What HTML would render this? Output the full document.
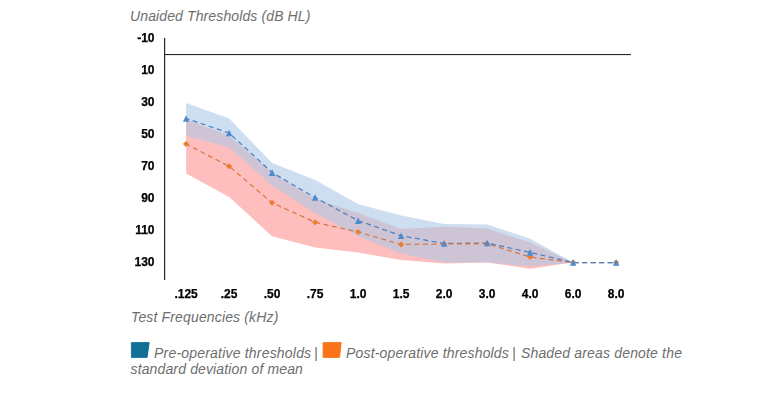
<!DOCTYPE html>
<html><head><meta charset="utf-8"><style>
html,body{margin:0;padding:0;background:#fff;}
body{width:768px;height:400px;position:relative;overflow:hidden;font-family:"Liberation Sans",sans-serif;}
.t{position:absolute;font-style:italic;font-size:14px;color:#6e6e6e;white-space:nowrap;line-height:16px;letter-spacing:0.2px;}
.yl{position:absolute;left:120px;width:34.5px;text-align:right;font-weight:bold;font-size:12px;line-height:14px;color:#000;transform:translateZ(0);-webkit-text-stroke:0.25px #000;}
.xl{position:absolute;top:287px;width:40px;text-align:center;font-weight:bold;font-size:12px;line-height:14px;color:#000;transform:translateZ(0);-webkit-text-stroke:0.25px #000;}
svg{position:absolute;left:0;top:0;}
</style></head><body>
<div class="t" style="left:130px;top:7.7px;letter-spacing:0.12px">Unaided Thresholds (dB HL)</div>
<svg width="768" height="400" viewBox="0 0 768 400">
<polygon points="186.10,119.75 229.10,135.50 272.10,173.00 315.10,199.00 358.10,213.00 401.10,229.00 444.10,226.75 487.10,228.50 530.10,242.50 573.10,262.50 573.10,262.50 530.10,268.75 487.10,262.50 444.10,263.50 401.10,260.00 358.10,252.50 315.10,247.50 272.10,236.25 229.10,197.00 186.10,173.50" fill="rgb(255,190,190)"/>
<polygon points="186.10,102.90 229.10,118.50 272.10,163.00 315.10,180.00 358.10,204.00 401.10,215.50 444.10,224.00 487.10,224.40 530.10,238.75 573.10,262.50 573.10,262.50 530.10,266.25 487.10,262.25 444.10,262.50 401.10,253.50 358.10,236.25 315.10,213.00 272.10,185.50 229.10,147.50 186.10,135.75" fill="rgb(172,200,230)" fill-opacity="0.6"/>
<polyline points="186.10,144.00 229.10,166.25 272.10,202.75 315.10,222.25 358.10,232.00 401.10,244.50 444.10,243.90 487.10,243.70 530.10,257.00 573.10,262.60 616.10,262.60" fill="none" stroke="#d87845" stroke-width="1.25" stroke-dasharray="5.0 3.5" stroke-dashoffset="0.791"/><g fill="#ed7d31"><path d="M186.10,140.90 L189.20,144.00 L186.10,147.10 L183.00,144.00Z"/><path d="M229.10,163.15 L232.20,166.25 L229.10,169.35 L226.00,166.25Z"/><path d="M272.10,199.65 L275.20,202.75 L272.10,205.85 L269.00,202.75Z"/><path d="M315.10,219.15 L318.20,222.25 L315.10,225.35 L312.00,222.25Z"/><path d="M358.10,228.90 L361.20,232.00 L358.10,235.10 L355.00,232.00Z"/><path d="M401.10,241.40 L404.20,244.50 L401.10,247.60 L398.00,244.50Z"/><path d="M444.10,240.80 L447.20,243.90 L444.10,247.00 L441.00,243.90Z"/><path d="M487.10,240.60 L490.20,243.70 L487.10,246.80 L484.00,243.70Z"/><path d="M530.10,253.90 L533.20,257.00 L530.10,260.10 L527.00,257.00Z"/><path d="M573.10,259.50 L576.20,262.60 L573.10,265.70 L570.00,262.60Z"/><path d="M616.10,259.50 L619.20,262.60 L616.10,265.70 L613.00,262.60Z"/></g><polyline points="186.10,118.50 229.10,133.00 272.10,172.60 315.10,197.50 358.10,220.60 401.10,235.75 444.10,243.50" fill="none" stroke="#4d80c2" stroke-width="1.25" stroke-dasharray="5.0 3.5" stroke-dashoffset="1.580"/><polyline points="444.10,243.50 487.10,243.00" fill="none" stroke="#a0776e" stroke-width="1.3" stroke-dasharray="5.0 3.5" stroke-dashoffset="4.200"/><polyline points="487.10,243.00 530.10,252.40 573.10,262.50 616.10,262.50" fill="none" stroke="#4d80c2" stroke-width="1.25" stroke-dasharray="5.0 3.5" stroke-dashoffset="4.703"/><g fill="#4f8cc9"><path d="M186.10,115.20 L189.35,121.80 L182.85,121.80Z"/><path d="M229.10,129.70 L232.35,136.30 L225.85,136.30Z"/><path d="M272.10,169.30 L275.35,175.90 L268.85,175.90Z"/><path d="M315.10,194.20 L318.35,200.80 L311.85,200.80Z"/><path d="M358.10,217.30 L361.35,223.90 L354.85,223.90Z"/><path d="M401.10,232.45 L404.35,239.05 L397.85,239.05Z"/><path d="M444.10,240.20 L447.35,246.80 L440.85,246.80Z"/><path d="M487.10,239.70 L490.35,246.30 L483.85,246.30Z"/><path d="M530.10,249.10 L533.35,255.70 L526.85,255.70Z"/><path d="M573.10,259.20 L576.35,265.80 L569.85,265.80Z"/><path d="M616.10,259.20 L619.35,265.80 L612.85,265.80Z"/></g>
<rect x="164" y="38" width="1.2" height="242" fill="#262626"/>
<rect x="164" y="54" width="467" height="1.1" fill="#262626"/>
<path d="M131.4,342.6 L149.2,342.6 L147.1,357.4 L131.4,357.4 Z" fill="#127096" stroke="#127096" stroke-width="0.9" stroke-linejoin="round"/>
<path d="M323.1,342.6 L341.2,342.6 L339.6,357.4 L323.1,357.4 Z" fill="#f9731a" stroke="#f9731a" stroke-width="0.9" stroke-linejoin="round"/>
</svg>
<div class="t" style="left:131px;top:309.4px;letter-spacing:0.15px">Test Frequencies (kHz)</div>
<div class="t" style="left:154px;top:345px">Pre-operative thresholds <span style="position:relative;left:-1.5px">|</span></div>
<div class="t" style="left:346px;top:345px;letter-spacing:0.17px">Post-operative thresholds <span style="position:relative;left:-1.2px">|</span> Shaded areas denote the</div>
<div class="t" style="left:130.5px;top:361px;letter-spacing:0.14px">standard deviation of mean</div>
<div class="yl" style="top:30.50px">-10</div>
<div class="yl" style="top:62.55px">10</div>
<div class="yl" style="top:94.60px">30</div>
<div class="yl" style="top:126.65px">50</div>
<div class="yl" style="top:158.70px">70</div>
<div class="yl" style="top:190.75px">90</div>
<div class="yl" style="top:222.80px">110</div>
<div class="yl" style="top:254.85px">130</div>
<div class="xl" style="left:166.10px">.125</div>
<div class="xl" style="left:209.10px">.25</div>
<div class="xl" style="left:252.10px">.50</div>
<div class="xl" style="left:295.10px">.75</div>
<div class="xl" style="left:338.10px">1.0</div>
<div class="xl" style="left:381.10px">1.5</div>
<div class="xl" style="left:424.10px">2.0</div>
<div class="xl" style="left:467.10px">3.0</div>
<div class="xl" style="left:510.10px">4.0</div>
<div class="xl" style="left:553.10px">6.0</div>
<div class="xl" style="left:596.10px">8.0</div>
</body></html>
